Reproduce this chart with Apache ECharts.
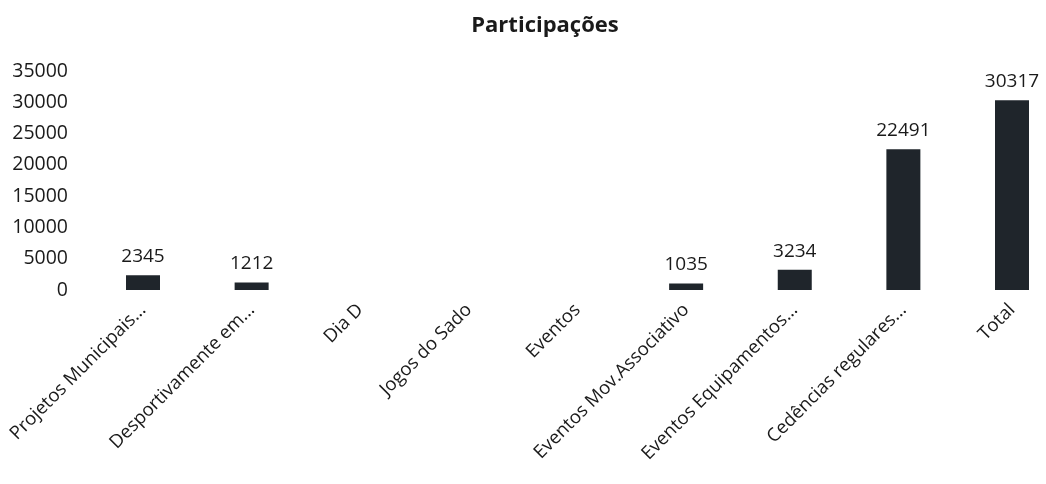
<!DOCTYPE html>
<html>
<head>
<meta charset="utf-8">
<script src="https://cdn.jsdelivr.net/npm/echarts@6/dist/echarts.min.js"></script>
<style>html,body{margin:0;padding:0;background:#fff}#c{width:1046px;height:484px}</style>
</head>
<body>
<div id="c"></div>
<script>
const title = 'Participações';
const categories = ['Projetos Municipais...', 'Desportivamente em...', 'Dia D', 'Jogos do Sado', 'Eventos', 'Eventos Mov.Associativo', 'Eventos Equipamentos...', 'Cedências regulares...', 'Total'];
const values = [2345, 1212, 0, 0, 0, 1035, 3234, 22491, 30317];
const yTicks = {min: 0, max: 35000, interval: 5000};

const font = '"Open Sans", "Noto Sans", sans-serif';
const chart = echarts.init(document.getElementById('c'), null, {renderer: 'canvas'});
chart.setOption({
  animation: false,
  backgroundColor: '#ffffff',
  title: {
    text: title, left: 540, top: 10, textAlign: 'center',
    textStyle: {fontFamily: font, fontSize: 22, fontWeight: 'bold', color: '#1a1a1a'}
  },
  grid: {left: 143, top: 71, right: 34, height: 219, containLabel: false},
  xAxis: {
    type: 'category', data: categories, boundaryGap: false,
    axisLine: {show: false}, axisTick: {show: false}, splitLine: {show: false},
    axisLabel: {rotate: 45, interval: 0, margin: 17, fontFamily: font, fontSize: 18.5, color: '#1a1a1a'}
  },
  yAxis: {
    type: 'value', min: yTicks.min, max: yTicks.max, interval: yTicks.interval,
    axisLine: {show: false}, axisTick: {show: false}, splitLine: {show: false},
    axisLabel: {margin: 75, fontFamily: font, fontSize: 19.5, color: '#1a1a1a', formatter: v => String(v)}
  },
  series: [{
    type: 'bar', data: values, barWidth: 34, clip: false,
    itemStyle: {color: '#1f252b'},
    label: {
      show: true, position: 'top', distance: 9,
      fontFamily: font, fontSize: 19, color: '#1a1a1a',
      formatter: p => p.value ? String(p.value) : ''
    }
  }]
});
</script>
</body>
</html>
